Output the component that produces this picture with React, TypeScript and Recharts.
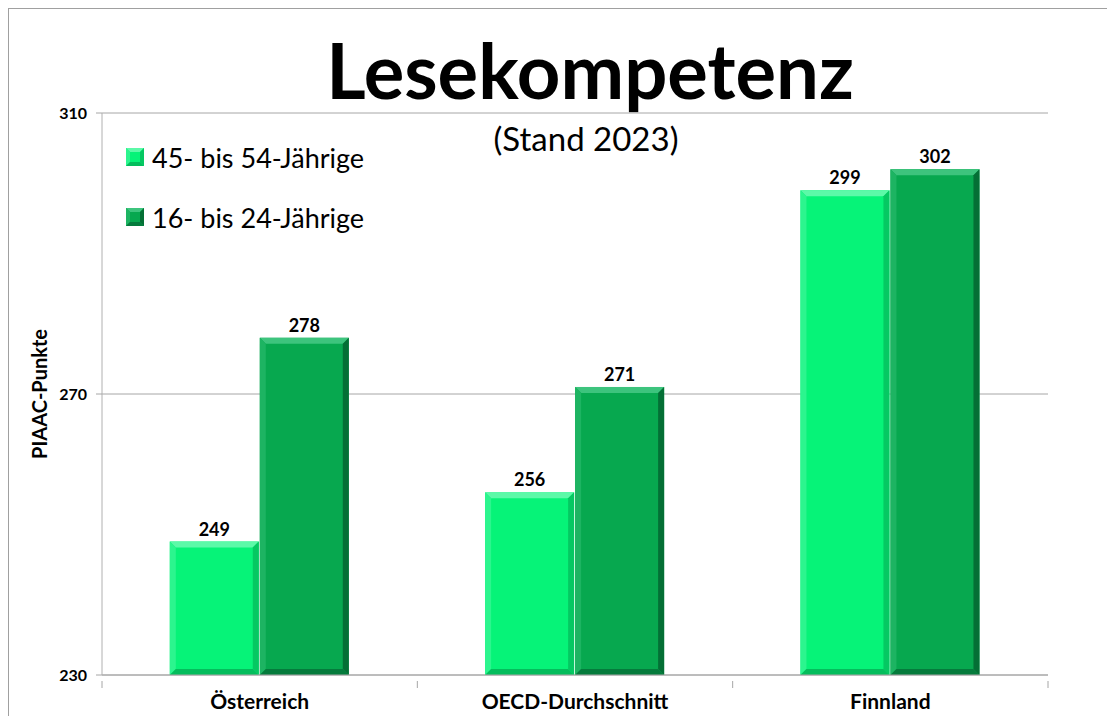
import React from "react";
import { BarChart, Bar, XAxis, YAxis, CartesianGrid, LabelList } from "recharts";

const categories = ["Österreich", "OECD-Durchschnitt", "Finnland"];
const olderScores = [249, 256, 299];
const youngerScores = [278, 271, 302];
const yTicks = [230, 270, 310];

const seriesNames = { older: "45- bis 54-Jährige", younger: "16- bis 24-Jährige" };

const data = categories.map((name, i) => ({
  name,
  older: olderScores[i],
  younger: youngerScores[i],
}));

const FONT = "Lato, 'Open Sans', sans-serif";

const palettes: Record<string, { base: string; top: string; left: string; right: string; bottom: string }> = {
  light: { base: "#06F378", top: "#5CF9A8", left: "#2CF58E", right: "#05C862", bottom: "#04BD5C" },
  dark: { base: "#07A84F", top: "#3DC47D", left: "#1DB462", right: "#046F35", bottom: "#057B3C" },
};

function BevelBar(props: any) {
  const { x, y, width, height, tone } = props;
  if (!width || !height) return null;
  const p = palettes[tone];
  const b = 6;
  const x2 = x + width;
  const y2 = y + height;
  return (
    <g>
      <rect x={x} y={y} width={width} height={height} fill={p.base} />
      <polygon points={`${x},${y} ${x2},${y} ${x2 - b},${y + b} ${x + b},${y + b}`} fill={p.top} />
      <polygon points={`${x},${y} ${x + b},${y + b} ${x + b},${y2 - b} ${x},${y2}`} fill={p.left} />
      <polygon points={`${x2},${y} ${x2},${y2} ${x2 - b},${y2 - b} ${x2 - b},${y + b}`} fill={p.right} />
      <polygon points={`${x},${y2} ${x + b},${y2 - b} ${x2 - b},${y2 - b} ${x2},${y2}`} fill={p.bottom} />
    </g>
  );
}

const PLOT_LEFT = 93;
const PLOT_RIGHT = 1039;
const BAND = (PLOT_RIGHT - PLOT_LEFT) / categories.length;

function CategoryTick(props: any) {
  const { x, y, payload, index } = props;
  const left = x - BAND / 2;
  const right = x + BAND / 2;
  return (
    <g>
      <line x1={left} y1={y - 2} x2={left} y2={y + 5} stroke="#a6a6a6" />
      {index === categories.length - 1 && (
        <line x1={right} y1={y - 2} x2={right} y2={y + 5} stroke="#a6a6a6" />
      )}
      <text x={x} y={y + 26} textAnchor="middle" fontFamily={FONT} fontWeight={700} fontSize={21} fill="#000">
        {payload.value}
      </text>
    </g>
  );
}

function LegendSwatch({ tone }: { tone: string }) {
  const p = palettes[tone];
  return (
    <svg width={18} height={18} style={{ marginRight: 8, flex: "none" }}>
      <rect x={0} y={0} width={18} height={18} fill={p.base} />
      <polygon points="0,0 18,0 14,4 4,4" fill={p.top} />
      <polygon points="0,0 4,4 4,14 0,18" fill={p.left} />
      <polygon points="18,0 18,18 14,14 14,4" fill={p.right} />
      <polygon points="0,18 4,14 14,14 18,18" fill={p.bottom} />
    </svg>
  );
}

const legendRows = [
  { key: "older", tone: "light" },
  { key: "younger", tone: "dark" },
];

const labelStyle = { fontFamily: FONT, fontWeight: 700, fontSize: 18, fill: "#000" };

export default function App() {
  return (
    <div
      style={{
        position: "relative",
        width: 1099,
        height: 707,
        borderTop: "1px solid #a0a0a0",
        borderLeft: "1px solid #a0a0a0",
        background: "#fff",
        overflow: "hidden",
      }}
    >
      <style>{"html, body { overflow: hidden; }"}</style>
      <div
        style={{
          position: "absolute",
          left: 0,
          width: 1162,
          top: 18,
          textAlign: "center",
          fontFamily: FONT,
          fontWeight: 700,
          fontSize: 76,
          lineHeight: "86px",
          color: "#000",
        }}
      >
        Lesekompetenz
      </div>
      <div
        style={{
          position: "absolute",
          left: 0,
          width: 1154,
          top: 110,
          textAlign: "center",
          fontFamily: FONT,
          fontSize: 33,
          lineHeight: "38px",
          color: "#000",
        }}
      >
        (Stand 2023)
      </div>
      <BarChart
        width={1099}
        height={715}
        data={data}
        margin={{ top: 104, right: 60, bottom: 0, left: 0 }}
        barCategoryGap="21.5%"
        barGap={1}
        style={{ position: "absolute", left: 0, top: 0, outline: "none" }}
      >
        <CartesianGrid vertical={false} stroke="#a6a6a6" />
        <XAxis
          dataKey="name"
          height={49}
          axisLine={{ stroke: "#a6a6a6" }}
          tickLine={false}
          tick={<CategoryTick />}
          interval={0}
        />
        <YAxis
          width={93}
          domain={[230, 310]}
          ticks={yTicks}
          allowDataOverflow
          axisLine={{ stroke: "#b0b0b0" }}
          tickLine={{ stroke: "#a6a6a6" }}
          tickSize={6}
          tickMargin={9}
          tick={{ fontFamily: FONT, fontWeight: 700, fontSize: 16, fill: "#000" }}
          label={{
            value: "PIAAC-Punkte",
            angle: -90,
            position: "insideLeft",
            offset: 31,
            style: { fontFamily: FONT, fontWeight: 700, fontSize: 20, fill: "#000", textAnchor: "middle" },
          }}
        />
        <Bar dataKey="older" name={seriesNames.older} fill={palettes.light.base} shape={<BevelBar tone="light" />} isAnimationActive={false}>
          <LabelList dataKey="older" position="top" offset={6} style={labelStyle} />
        </Bar>
        <Bar dataKey="younger" name={seriesNames.younger} fill={palettes.dark.base} shape={<BevelBar tone="dark" />} isAnimationActive={false}>
          <LabelList dataKey="younger" position="top" offset={6} style={labelStyle} />
        </Bar>
      </BarChart>
      <div style={{ position: "absolute", left: 117, top: 132, fontFamily: FONT, fontSize: 27, color: "#000" }}>
        {legendRows.map((r, i) => (
          <div key={r.key} style={{ display: "flex", alignItems: "center", height: 32, marginBottom: i === 0 ? 28 : 0 }}>
            <LegendSwatch tone={r.tone} />
            <span>{(seriesNames as any)[r.key]}</span>
          </div>
        ))}
      </div>
    </div>
  );
}
